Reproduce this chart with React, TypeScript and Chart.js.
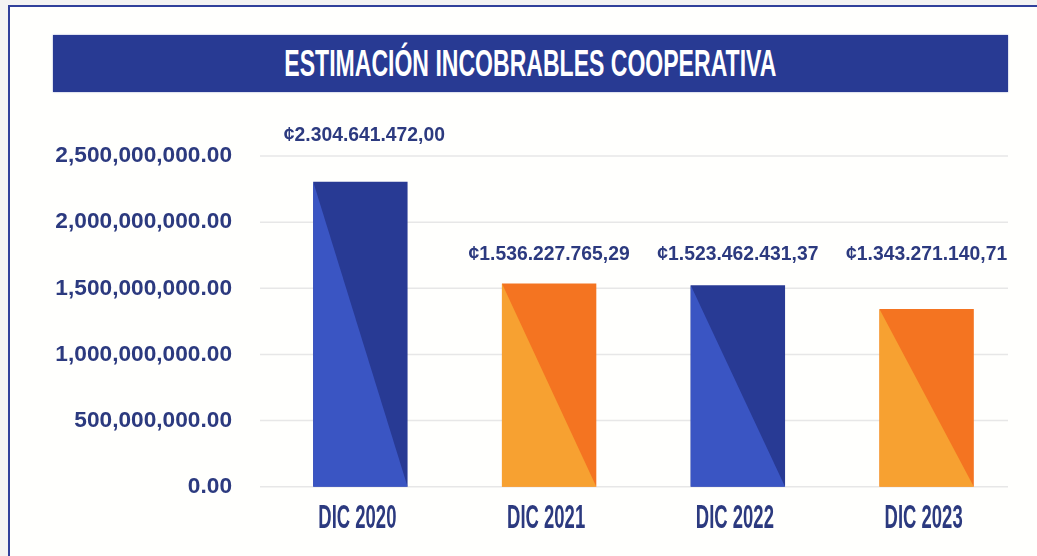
import React, { useEffect, useRef } from "react";
import { Chart, registerables } from "chart.js";

Chart.register(...registerables);

const titleText = "ESTIMACIÓN INCOBRABLES COOPERATIVA";
const categories = ["DIC 2020", "DIC 2021", "DIC 2022", "DIC 2023"];
const values = [2304641472.0, 1536227765.29, 1523462431.37, 1343271140.71];
const yTickValues = [0, 500000000, 1000000000, 1500000000, 2000000000, 2500000000];
const darkColors = ["#283a94", "#f47421", "#283a94", "#f47421"];
const lightColors = ["#3a55c3", "#f7a131", "#3a55c3", "#f7a131"];

const NAVY = "#2c3a7f";
const FONT = "'Liberation Sans', Arial, sans-serif";

function groupDigits(intPart: string, sep: string) {
  return intPart.replace(/\B(?=(\d{3})+(?!\d))/g, sep);
}
function fmtAxis(v: number) {
  const [i, d] = v.toFixed(2).split(".");
  return groupDigits(i, ",") + "." + d;
}
function fmtValue(v: number) {
  const [i, d] = v.toFixed(2).split(".");
  return "¢" + groupDigits(i, ".") + "," + d;
}

const decorPlugin = {
  id: "decor",
  beforeDatasetsDraw(chart: any) {
    const { ctx, chartArea } = chart;
    const y = chart.scales.y;
    ctx.save();
    ctx.strokeStyle = "#e7e7e7";
    ctx.lineWidth = 1.5;
    y.ticks.forEach((t: any) => {
      const py = y.getPixelForValue(t.value);
      ctx.beginPath();
      ctx.moveTo(chartArea.left - 6, py);
      ctx.lineTo(chartArea.right - 13, py);
      ctx.stroke();
    });
    ctx.restore();
  },
  afterDatasetsDraw(chart: any, _args: any, opts: any) {
    const { ctx, chartArea } = chart;
    const yScale = chart.scales.y;
    const meta = chart.getDatasetMeta(0);
    const ds = chart.data.datasets[0];
    meta.data.forEach((bar: any, i: number) => {
      const { x, y, base, width } = bar.getProps(["x", "y", "base", "width"], true);
      const l = x - width / 2;
      const r = x + width / 2;
      ctx.save();
      ctx.fillStyle = lightColors[i];
      ctx.beginPath();
      ctx.moveTo(l, y);
      ctx.lineTo(r, base);
      ctx.lineTo(l, base);
      ctx.closePath();
      ctx.fill();
      ctx.restore();

      // value label
      ctx.save();
      ctx.translate(x + (i === 0 ? 4 : 0), yScale.getPixelForValue(opts.labelRows[i]));
      ctx.scale(0.92, 1);
      ctx.font = "bold 21px " + FONT;
      ctx.fillStyle = NAVY;
      ctx.textAlign = "center";
      ctx.textBaseline = "middle";
      ctx.fillText(fmtValue(ds.data[i]), 0, 0);
      ctx.restore();

      // category label
      ctx.save();
      ctx.translate(x - 3, chartArea.bottom + 41);
      ctx.scale(0.56, 1);
      ctx.font = "bold 33px " + FONT;
      ctx.fillStyle = NAVY;
      ctx.textAlign = "center";
      ctx.textBaseline = "alphabetic";
      ctx.fillText(chart.data.labels[i], 0, 0);
      ctx.restore();
    });
  },
};

export default function App() {
  const canvasRef = useRef<HTMLCanvasElement | null>(null);

  useEffect(() => {
    if (!canvasRef.current) return;
    const chart = new Chart(canvasRef.current, {
      type: "bar",
      data: {
        labels: categories,
        datasets: [
          {
            data: values,
            backgroundColor: darkColors,
            borderWidth: 0,
            barPercentage: 0.5,
            categoryPercentage: 1,
          },
        ],
      },
      options: {
        animation: false,
        responsive: true,
        maintainAspectRatio: false,
        layout: { padding: { top: 156, bottom: 69.3, left: 0, right: 16 } },
        plugins: {
          legend: { display: false },
          tooltip: { enabled: false },
          title: { display: false },
          decor: { labelRows: [2660000000, 1755000000, 1755000000, 1755000000] },
        } as any,
        scales: {
          x: { display: false },
          y: {
            min: 0,
            max: 2500000000,
            afterFit(scale: any) {
              scale.width = 266;
            },
            afterBuildTicks(scale: any) {
              scale.ticks = yTickValues.map((v) => ({ value: v }));
            },
            grid: { display: false, drawTicks: false },
            border: { display: false },
            ticks: {
              padding: 34,
              color: NAVY,
              font: { family: FONT, size: 22.7, weight: "bold" },
              callback: (v: any) => fmtAxis(Number(v)),
            },
          },
        },
      },
      plugins: [decorPlugin],
    });
    return () => chart.destroy();
  }, []);

  return (
    <div
      style={{
        position: "fixed",
        left: 0,
        top: 0,
        width: 1037,
        height: 556,
        background: "#f3f3f3",
        overflow: "hidden",
      }}
    >
      <div
        style={{
          position: "absolute",
          left: 8,
          top: 5,
          right: 0,
          bottom: 0,
          background: "#fffffd",
          borderLeft: "2.5px solid #30409b",
          borderTop: "2.5px solid #30409b",
        }}
      />
      <div
        style={{
          position: "absolute",
          left: 53,
          top: 35,
          width: 955,
          height: 57,
          background: "#283a93",
          boxShadow: "0 0 1.5px rgba(60,80,170,0.6)",
          display: "flex",
          alignItems: "center",
          justifyContent: "center",
        }}
      >
        <span
          style={{
            display: "inline-block",
            whiteSpace: "nowrap",
            color: "#ffffff",
            fontFamily: FONT,
            fontWeight: "bold",
            fontSize: 36,
            lineHeight: "36px",
            transform: "scaleX(0.64)",
          }}
        >
          {titleText}
        </span>
      </div>
      <div style={{ position: "absolute", left: 0, top: 0, width: 1037, height: 556 }}>
        <canvas ref={canvasRef} />
      </div>
    </div>
  );
}
